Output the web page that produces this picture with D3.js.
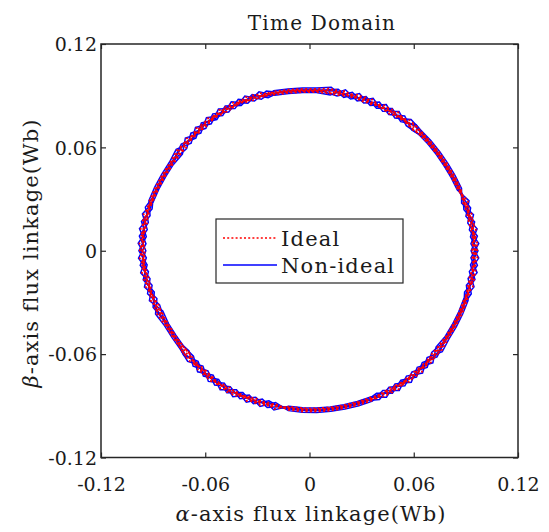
<!DOCTYPE html>
<html>
<head>
<meta charset="utf-8">
<script src="https://cdn.jsdelivr.net/npm/d3@7/dist/d3.min.js"></script>
<style>
  html, body { margin: 0; padding: 0; background: #fff; }
  svg { display: block; }
  text { font-family: "DejaVu Serif", "Liberation Serif", serif; fill: #1a1a1a; }
</style>
</head>
<body>
<svg id="chart" width="549" height="532"></svg>
<script>
// ---------------- data ----------------
const title = "Time Domain";
const xLabel = "-axis flux linkage(Wb)";
const yLabel = "-axis flux linkage(Wb)";
const tickValues = [-0.12, -0.06, 0, 0.06, 0.12];
const tickLabels = ["-0.12", "-0.06", "0", "0.06", "0.12"];
const seriesNames = ["Ideal", "Non-ideal"];

// trajectory sample angles (degrees)
const anglesA = [0,5,10,15,20,25,30,35,40,45,50,55,60,65,70,75,80,85,90,95,100,105,110,115,
  120,125,130,135,140,145,150,155,160,165,170,175,180,185,190,195,200,205,210,215,220,225,230,235,
  240,245,250,255,260,265,270,275,280,285,290,295,300,305,310,315,320,325,330,335,340,345,350,355];
const anglesB = [2.5,7.5,12.5,17.5,22.5,27.5,32.5,37.5,42.5,47.5,52.5,57.5,62.5,67.5,72.5,77.5,82.5,87.5,
  92.5,97.5,102.5,107.5,112.5,117.5,122.5,127.5,132.5,137.5,142.5,147.5,152.5,157.5,162.5,167.5,172.5,177.5,
  182.5,187.5,192.5,197.5,202.5,207.5,212.5,217.5,222.5,227.5,232.5,237.5,242.5,247.5,252.5,257.5,262.5,267.5,
  272.5,277.5,282.5,287.5,292.5,297.5,302.5,307.5,312.5,317.5,322.5,327.5,332.5,337.5,342.5,347.5,352.5,357.5];

// Non-ideal flux magnitude (Wb), successive loops
const nonIdealLoop1 = [0.0970,0.0930,0.0965,0.0920,0.0939,0.0936,0.0934,0.0934,0.0936,0.0939,0.0955,0.0915,
  0.0953,0.0912,0.0952,0.0912,0.0952,0.0936,0.0934,0.0936,0.0939,0.0920,0.0965,0.0930,
  0.0970,0.0930,0.0968,0.0925,0.0963,0.0946,0.0947,0.0951,0.0956,0.0938,0.0982,0.0943,
  0.0982,0.0938,0.0972,0.0925,0.0958,0.0934,0.0929,0.0928,0.0945,0.0907,0.0950,0.0912,
  0.0952,0.0908,0.0945,0.0902,0.0926,0.0927,0.0929,0.0930,0.0931,0.0932,0.0934,0.0913,
  0.0955,0.0917,0.0958,0.0918,0.0958,0.0942,0.0942,0.0944,0.0946,0.0924,0.0967,0.0930];
const nonIdealLoop2 = [0.0930,0.0970,0.0925,0.0960,0.0931,0.0928,0.0926,0.0926,0.0928,0.0931,0.0915,0.0955,
  0.0913,0.0952,0.0912,0.0952,0.0912,0.0928,0.0926,0.0928,0.0931,0.0960,0.0925,0.0970,
  0.0930,0.0970,0.0928,0.0965,0.0923,0.0938,0.0939,0.0943,0.0948,0.0978,0.0942,0.0983,
  0.0942,0.0978,0.0932,0.0965,0.0918,0.0926,0.0921,0.0920,0.0905,0.0947,0.0910,0.0952,
  0.0912,0.0948,0.0905,0.0942,0.0918,0.0919,0.0921,0.0922,0.0923,0.0924,0.0926,0.0953,
  0.0915,0.0957,0.0918,0.0958,0.0918,0.0934,0.0934,0.0936,0.0938,0.0964,0.0927,0.0970];
const nonIdealLoop3 = [0.0960,0.0940,0.0955,0.0930,0.0935,0.0932,0.0930,0.0930,0.0932,0.0935,0.0945,0.0925,
  0.0943,0.0922,0.0942,0.0922,0.0942,0.0932,0.0930,0.0932,0.0935,0.0930,0.0955,0.0940,
  0.0960,0.0940,0.0958,0.0935,0.0953,0.0942,0.0943,0.0947,0.0952,0.0948,0.0972,0.0953,
  0.0972,0.0948,0.0962,0.0935,0.0948,0.0930,0.0925,0.0924,0.0935,0.0917,0.0940,0.0922,
  0.0942,0.0918,0.0935,0.0912,0.0922,0.0923,0.0925,0.0926,0.0927,0.0928,0.0930,0.0923,
  0.0945,0.0927,0.0948,0.0928,0.0948,0.0938,0.0938,0.0940,0.0942,0.0934,0.0957,0.0940];
const nonIdealLoop4 = [0.0975,0.0928,0.0967,0.0918,0.0947,0.0945,0.0944,0.0945,0.0947,0.0949,0.0960,0.0914,
  0.0957,0.0912,0.0957,0.0912,0.0957,0.0945,0.0945,0.0947,0.0951,0.0922,0.0972,0.0930,
  0.0975,0.0929,0.0971,0.0924,0.0967,0.0956,0.0959,0.0964,0.0969,0.0940,0.0987,0.0942,
  0.0985,0.0935,0.0973,0.0921,0.0959,0.0941,0.0938,0.0938,0.0951,0.0908,0.0956,0.0912,
  0.0955,0.0906,0.0948,0.0902,0.0936,0.0938,0.0939,0.0940,0.0941,0.0943,0.0945,0.0914,
  0.0961,0.0917,0.0963,0.0918,0.0963,0.0952,0.0953,0.0955,0.0957,0.0925,0.0973,0.0930];
const nonIdealLoop5 = [0.0930,0.0973,0.0922,0.0963,0.0921,0.0919,0.0918,0.0919,0.0921,0.0923,0.0915,0.0959,
  0.0912,0.0957,0.0912,0.0957,0.0912,0.0919,0.0919,0.0921,0.0925,0.0967,0.0927,0.0975,
  0.0930,0.0974,0.0926,0.0969,0.0922,0.0930,0.0933,0.0938,0.0943,0.0985,0.0942,0.0987,
  0.0940,0.0980,0.0928,0.0966,0.0914,0.0915,0.0912,0.0912,0.0906,0.0953,0.0911,0.0957,
  0.0910,0.0951,0.0903,0.0947,0.0910,0.0912,0.0913,0.0914,0.0915,0.0917,0.0919,0.0959,
  0.0916,0.0962,0.0918,0.0963,0.0918,0.0926,0.0927,0.0929,0.0931,0.0970,0.0928,0.0975];

// Ideal flux magnitude (Wb), successive loops
const idealLoop1 = [0.0965,0.0941,0.0960,0.0931,0.0938,0.0935,0.0933,0.0933,0.0935,0.0938,0.0950,0.0926,
  0.0948,0.0923,0.0947,0.0923,0.0947,0.0935,0.0933,0.0935,0.0938,0.0931,0.0960,0.0941,
  0.0965,0.0941,0.0963,0.0936,0.0958,0.0945,0.0946,0.0950,0.0955,0.0949,0.0977,0.0954,
  0.0977,0.0949,0.0967,0.0936,0.0953,0.0933,0.0928,0.0927,0.0940,0.0918,0.0945,0.0923,
  0.0947,0.0919,0.0940,0.0913,0.0925,0.0926,0.0928,0.0929,0.0930,0.0931,0.0933,0.0924,
  0.0950,0.0928,0.0953,0.0929,0.0953,0.0941,0.0941,0.0943,0.0945,0.0935,0.0962,0.0941];
const idealLoop2 = [0.0935,0.0959,0.0930,0.0949,0.0932,0.0929,0.0927,0.0927,0.0929,0.0932,0.0920,0.0944,
  0.0918,0.0941,0.0917,0.0941,0.0917,0.0929,0.0927,0.0929,0.0932,0.0949,0.0930,0.0959,
  0.0935,0.0959,0.0933,0.0954,0.0928,0.0939,0.0940,0.0944,0.0949,0.0967,0.0947,0.0972,
  0.0947,0.0967,0.0937,0.0954,0.0923,0.0927,0.0922,0.0921,0.0910,0.0936,0.0915,0.0941,
  0.0917,0.0937,0.0910,0.0931,0.0919,0.0920,0.0922,0.0923,0.0924,0.0925,0.0927,0.0942,
  0.0920,0.0946,0.0923,0.0947,0.0923,0.0935,0.0935,0.0937,0.0939,0.0953,0.0932,0.0959];
const idealLoop3 = [0.0950,0.0950,0.0945,0.0940,0.0935,0.0932,0.0930,0.0930,0.0932,0.0935,0.0935,0.0935,
  0.0933,0.0932,0.0932,0.0932,0.0932,0.0932,0.0930,0.0932,0.0935,0.0940,0.0945,0.0950,
  0.0950,0.0950,0.0948,0.0945,0.0943,0.0942,0.0943,0.0947,0.0952,0.0958,0.0962,0.0963,
  0.0962,0.0958,0.0952,0.0945,0.0938,0.0930,0.0925,0.0924,0.0925,0.0927,0.0930,0.0932,
  0.0932,0.0928,0.0925,0.0922,0.0922,0.0923,0.0925,0.0926,0.0927,0.0928,0.0930,0.0933,
  0.0935,0.0937,0.0938,0.0938,0.0938,0.0938,0.0938,0.0940,0.0942,0.0944,0.0947,0.0950];
const idealLoop4 = [0.0968,0.0936,0.0960,0.0926,0.0943,0.0941,0.0940,0.0941,0.0943,0.0945,0.0953,0.0922,
  0.0950,0.0920,0.0950,0.0920,0.0950,0.0941,0.0941,0.0943,0.0947,0.0930,0.0965,0.0938,
  0.0968,0.0937,0.0964,0.0932,0.0960,0.0952,0.0955,0.0960,0.0965,0.0948,0.0980,0.0950,
  0.0978,0.0943,0.0966,0.0929,0.0952,0.0937,0.0934,0.0934,0.0944,0.0916,0.0949,0.0920,
  0.0948,0.0914,0.0941,0.0910,0.0932,0.0934,0.0935,0.0936,0.0937,0.0939,0.0941,0.0922,
  0.0954,0.0925,0.0956,0.0926,0.0956,0.0948,0.0949,0.0951,0.0953,0.0933,0.0966,0.0938];
const idealLoop5 = [0.0938,0.0966,0.0930,0.0956,0.0924,0.0922,0.0921,0.0922,0.0924,0.0926,0.0923,0.0952,
  0.0920,0.0950,0.0920,0.0950,0.0920,0.0922,0.0922,0.0924,0.0928,0.0960,0.0935,0.0968,
  0.0938,0.0967,0.0934,0.0962,0.0930,0.0933,0.0936,0.0941,0.0946,0.0978,0.0950,0.0980,
  0.0948,0.0973,0.0936,0.0959,0.0922,0.0918,0.0915,0.0915,0.0914,0.0946,0.0919,0.0950,
  0.0918,0.0944,0.0911,0.0940,0.0913,0.0915,0.0916,0.0917,0.0918,0.0920,0.0922,0.0952,
  0.0924,0.0955,0.0926,0.0956,0.0926,0.0929,0.0930,0.0932,0.0934,0.0963,0.0936,0.0968];

const nonIdealLoops = [
  { angles: anglesA, radii: nonIdealLoop1 }, { angles: anglesA, radii: nonIdealLoop2 },
  { angles: anglesA, radii: nonIdealLoop3 }, { angles: anglesB, radii: nonIdealLoop4 },
  { angles: anglesB, radii: nonIdealLoop5 }];
const idealLoops = [
  { angles: anglesA, radii: idealLoop1 }, { angles: anglesA, radii: idealLoop2 },
  { angles: anglesA, radii: idealLoop3 }, { angles: anglesB, radii: idealLoop4 },
  { angles: anglesB, radii: idealLoop5 }];

// ---------------- chart ----------------
const svg = d3.select("#chart");
const pLeft = 101, pRight = 518, pTop = 44, pBottom = 457.5;
const x = d3.scaleLinear().domain([-0.12, 0.12]).range([pLeft, pRight]);
const y = d3.scaleLinear().domain([-0.12, 0.12]).range([pBottom, pTop]);
const axisColor = "#262626";

function toPoints(loop) {
  return loop.angles.map((a, i) => ({ a: a * Math.PI / 180, r: loop.radii[i] }));
}
const line = d3.line()
  .x(d => x(d.r * Math.cos(d.a)))
  .y(d => y(d.r * Math.sin(d.a)))
  .curve(d3.curveLinearClosed);

const plot = svg.append("g");
// Non-ideal (solid blue)
nonIdealLoops.forEach(loop => {
  plot.append("path").attr("d", line(toPoints(loop)))
    .attr("fill", "none").attr("stroke", "#0000ff").attr("stroke-width", 1.5)
    .attr("stroke-linejoin", "miter");
});
// Ideal (dotted red)
idealLoops.forEach(loop => {
  plot.append("path").attr("d", line(toPoints(loop)))
    .attr("fill", "none").attr("stroke", "#ff0000").attr("stroke-width", 1.8)
    .attr("stroke-dasharray", "2,2.4");
});

// axes
const fmt = (d) => tickLabels[tickValues.indexOf(d)];
const gB = svg.append("g").attr("transform", `translate(0,${pBottom})`)
  .call(d3.axisBottom(x).tickValues(tickValues).tickFormat(fmt).tickSizeInner(-5).tickSizeOuter(0).tickPadding(20));
const gT = svg.append("g").attr("transform", `translate(0,${pTop})`)
  .call(d3.axisTop(x).tickValues(tickValues).tickFormat("").tickSizeInner(-5).tickSizeOuter(0));
const gL = svg.append("g").attr("transform", `translate(${pLeft},0)`)
  .call(d3.axisLeft(y).tickValues(tickValues).tickFormat(fmt).tickSizeInner(-5).tickSizeOuter(0).tickPadding(4));
const gR = svg.append("g").attr("transform", `translate(${pRight},0)`)
  .call(d3.axisRight(y).tickValues(tickValues).tickFormat("").tickSizeInner(-5).tickSizeOuter(0));
[gB, gT, gL, gR].forEach(g => {
  g.select(".domain").remove();
  g.selectAll(".tick line").attr("stroke", axisColor).attr("stroke-width", 1.2);
  g.selectAll(".tick text").attr("fill", "#1a1a1a")
    .style("font-family", '"DejaVu Serif", serif').style("font-size", "19px");
});
gL.selectAll(".tick text").attr("dy", "0.36em");

// frame
svg.append("rect").attr("x", pLeft).attr("y", pTop)
  .attr("width", pRight - pLeft).attr("height", pBottom - pTop)
  .attr("fill", "none").attr("stroke", axisColor).attr("stroke-width", 1.5);

// title
svg.append("text").attr("x", 322).attr("y", 30).attr("text-anchor", "middle")
  .style("font-size", "20px").style("letter-spacing", "1.2px").text(title);

// x label
const xl = svg.append("text").attr("x", 311).attr("y", 521).attr("text-anchor", "middle")
  .style("font-size", "21px").style("letter-spacing", "1.1px");
xl.append("tspan").style("font-style", "italic").text("α");
xl.append("tspan").text(xLabel);

// y label
const yl = svg.append("text").attr("transform", "translate(38,253) rotate(-90)")
  .attr("text-anchor", "middle").style("font-size", "21px").style("letter-spacing", "1.1px");
yl.append("tspan").style("font-style", "italic").text("β");
yl.append("tspan").text(yLabel);

// legend
const lg = svg.append("g");
lg.append("rect").attr("x", 216).attr("y", 219).attr("width", 187).attr("height", 64)
  .attr("fill", "#fff").attr("stroke", axisColor).attr("stroke-width", 1.2);
lg.append("line").attr("x1", 223).attr("x2", 277).attr("y1", 238).attr("y2", 238)
  .attr("stroke", "#ff0000").attr("stroke-width", 1.6).attr("stroke-dasharray", "2,2.2");
lg.append("line").attr("x1", 223).attr("x2", 277).attr("y1", 265).attr("y2", 265)
  .attr("stroke", "#0000ff").attr("stroke-width", 1.5);
lg.append("text").attr("x", 281).attr("y", 245.5).style("font-size", "21px")
  .style("letter-spacing", "1.2px").text(seriesNames[0]);
lg.append("text").attr("x", 281).attr("y", 273).style("font-size", "21px")
  .style("letter-spacing", "1.2px").text(seriesNames[1]);
</script>
</body>
</html>
